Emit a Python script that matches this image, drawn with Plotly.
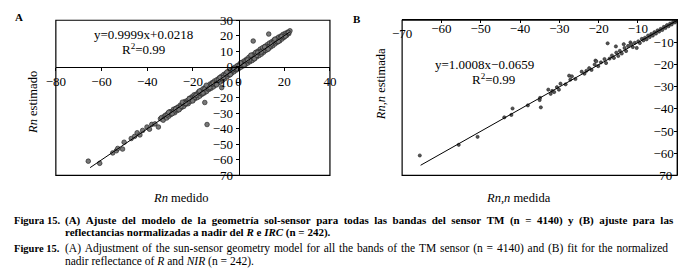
import plotly.graph_objects as go

W, H = 692, 279

# ---------------- Panel A data (Rn medido vs Rn estimado) ----------------
a_x = [-65.8, -60.8, -55.1, -53.5, -52.9, -50.8, -50.1, -47.0, -45.5, -44.4, -43.2, -42.0,
       -40.1, -39.0, -38.0, -36.6, -35.1, -34.2, -33.7, -33.0, -32.5,
       -32.0, -31.5, -31.0, -30.5, -30.0, -29.5, -29.0, -28.5, -28.0, -27.5, -27.0, -26.5,
       -26.0, -25.5, -25.0, -24.5, -24.0, -23.5, -23.0, -22.5, -22.0, -21.5, -21.0, -20.5,
       -20.0, -19.5, -19.0, -18.5, -18.0, -17.5, -17.0, -16.5, -16.0, -15.5, -15.0, -14.5,
       -14.0, -13.5, -13.0, -12.5, -12.0, -11.5, -11.0, -10.5, -10.0, -9.5, -9.0, -8.5,
       -8.0, -7.5, -7.0, -6.5, -6.0, -5.5, -5.0, -4.5, -4.0, -3.5, -3.0, -2.5, -2.0, -1.5,
       -1.0, -0.5, 0.0, 0.5, 1.0, 1.5, 2.0, 2.5, 3.0, 3.5, 4.0, 4.5, 5.0, 5.5, 6.0, 6.5,
       7.0, 7.5, 8.0, 8.5, 9.0, 9.5, 10.0, 10.5, 11.0, 11.5, 12.0, 12.5, 13.0, 13.5, 14.0,
       14.5, 15.0, 15.5, 16.0, 16.5, 17.0, 17.5, 18.0, 18.5, 19.0, 19.5, 20.0, 20.5, 21.0,
       21.5, 22.0, 22.5,
       -31.25, -29.75, -28.25, -26.75, -25.25, -23.75, -22.25, -20.75, -19.25, -17.75,
       -16.25, -14.75, -13.25, -11.75, -10.25, -8.75, -7.25, -5.75, -4.25, -2.75, -1.25,
       0.25, 1.75, 3.25, 4.75, 6.25, 7.75, 9.25, 10.75, 12.25, 13.75, 15.25, 16.75, 18.25,
       19.75, 21.25,
       -30.6, -29.1, -27.6, -26.1, -24.6, -23.1, -21.6, -20.1, -18.6, -17.1, -15.6, -14.1,
       -12.6, -11.1, -9.6, -8.1, -6.6, -5.1, -3.6, -2.1, -0.6, 0.9, 2.4, 3.9, 5.4, 6.9,
       8.4, 9.9, 11.4, 12.9, 14.4, 15.9, 17.4, 18.9, 20.4, 21.9,
       -14.8, -13.8, 6.4, 13.2, -7.4]
a_y = [-60.8, -62.2, -55.5, -54.1, -52.6, -53.0, -48.6, -46.2, -44.8, -42.5, -43.9, -41.0,
       -38.8, -40.2, -37.1, -36.8, -38.8, -33.5, -32.7, -34.4, -31.9,
       -31.2, -33.0, -30.1, -31.8, -28.9, -30.6, -29.9, -27.4, -29.6, -26.8, -28.3, -25.9,
       -27.4, -24.7, -26.2, -23.6, -25.5, -22.4, -24.1, -21.8, -23.7, -20.3, -22.2, -19.4,
       -21.6, -18.1, -20.4, -17.6, -19.8, -16.2, -18.9, -15.3, -17.7, -14.1, -16.8, -13.2,
       -15.9, -12.4, -14.6, -11.1, -13.8, -10.2, -12.9, -9.1, -11.7, -8.3, -10.6, -7.2,
       -9.8, -6.1, -8.7, -5.0, -7.6, -4.2, -6.4, -3.1, -5.3, -2.2, -4.1, -1.3, -3.2, -0.2,
       -2.1, 0.8, -1.2, 1.7, -0.3, 2.9, 0.6, 3.8, 1.5, 4.9, 2.4, 6.1, 3.3, 7.2, 4.1, 8.0,
       5.2, 9.3, 6.4, 10.1, 7.3, 11.4, 8.2, 12.3, 9.4, 13.1, 10.6, 14.2, 11.5, 15.3, 12.7,
       16.1, 13.6, 17.2, 14.8, 18.0, 15.9, 19.1, 16.7, 19.8, 17.9, 20.9, 19.1, 21.6, 20.2,
       22.3, 21.4, 23.2,
       -31.0, -29.4, -28.6, -26.4, -25.6, -23.2, -22.7, -20.3, -19.6, -17.3,
       -16.8, -14.2, -13.7, -11.3, -10.8, -8.2, -7.7, -5.3, -4.7, -2.3, -1.6,
       0.8, 1.2, 3.7, 4.3, 6.8, 7.2, 9.7, 10.3, 12.8, 13.2, 15.7, 16.2, 18.6,
       19.3, 21.6,
       -29.3, -30.2, -27.2, -27.7, -22.8, -23.6, -20.6, -22.0, -18.4, -15.6, -16.9, -11.9,
       -13.4, -10.5, -11.6, -6.9, -6.9, -3.4, -5.0, -1.2, -1.3, 2.5, 1.2, 4.4, 7.5, 5.2,
       9.2, 9.5, 12.8, 11.4, 14.7, 17.8, 16.4, 19.6, 19.8, 22.1,
       -23.0, -37.2, 16.6, 21.1, -13.4]
a_slope, a_icpt = 0.9999, 0.0218
a_line_x = [-65.0, 22.5]

# ---------------- Panel B data (Rn,n medida vs Rn,n estimada) ----------------
b_x = [-65.5, -55.6, -50.8, -44.0, -42.2, -41.9, -38.0, -35.0, -34.7, -34.9, -32.8, -32.2,
       -31.8, -31.3, -30.6, -30.1, -29.7, -28.4, -27.5, -27.2, -26.8, -25.9, -24.3, -23.6,
       -23.1, -22.4, -21.8, -21.0, -20.8, -20.6, -20.1, -19.4, -18.5, -18.1, -17.7, -17.2,
       -16.6, -16.1, -15.6, -15.5, -15.0, -14.6, -14.1, -13.6, -13.4, -13.0, -12.5, -11.9,
       -11.7, -11.3, -10.8, -10.3, -9.9, -9.5, -9.0, -8.6, -8.2, -7.8, -7.4, -7.0, -6.6,
       -6.2, -5.8, -5.4, -5.0, -4.6, -4.2, -3.8, -3.4, -3.0, -2.6, -2.2, -1.8, -1.4, -1.0,
       -0.6, -0.3]
b_y = [-61.0, -56.2, -52.6, -43.8, -42.7, -39.8, -38.4, -36.0, -39.3, -35.0, -31.3, -33.2,
       -31.9, -32.4, -30.2, -31.3, -28.6, -28.9, -25.0, -26.8, -25.3, -26.5, -23.2, -24.1,
       -22.8, -21.6, -22.4, -20.0, -18.2, -18.5, -20.7, -19.0, -17.5, -19.3, -10.4, -17.3,
       -15.9, -17.0, -11.8, -14.6, -16.1, -13.8, -15.0, -10.8, -12.5, -13.9, -11.6, -10.0,
       -10.8, -12.1, -10.2, -12.5, -9.5, -10.3, -8.4, -9.1, -7.9, -8.6, -6.9, -7.6, -6.2,
       -6.9, -5.4, -6.0, -4.6, -5.1, -3.9, -4.4, -3.0, -3.5, -2.2, -2.7, -1.5, -1.9, -0.7,
       -1.0, -0.2]
b_slope, b_icpt = 1.0008, -0.0659
b_line_x = [-65.3, 0.0]

# axis ticks
a_xticks = [-80, -60, -40, -20, 0, 20, 40]
a_yticks = [30, 20, 10, 0, -10, -20, -30, -40, -50, -60, -70]
b_xticks = [-70, -60, -50, -40, -30, -20, -10]
b_yticks = [-10, -20, -30, -40, -50, -60, -70]

SERIF = "Liberation Serif"

def px2fx(p):
    return p / W

def px2fy(p):
    return 1 - p / H

# panel boxes (pixels)
A_L, A_R, A_T, A_B = 47, 328, 14, 178
B_L, B_R, B_T, B_B = 402, 684, 14, 178
A_XR, A_YR = [-80, 40], [-70, 30]
B_XR, B_YR = [-70, 0], [-70, 0]

a_dom_x = [px2fx(A_L), px2fx(A_R)]
a_dom_y = [px2fy(A_B), px2fy(A_T)]
b_dom_x = [px2fx(B_L), px2fx(B_R)]
b_dom_y = [px2fy(B_B), px2fy(B_T)]

a_x0 = a_dom_x[0] + (0 - A_XR[0]) / (A_XR[1] - A_XR[0]) * (a_dom_x[1] - a_dom_x[0])
a_y0 = a_dom_y[0] + (0 - A_YR[0]) / (A_YR[1] - A_YR[0]) * (a_dom_y[1] - a_dom_y[0])

marker_a = dict(size=4.6, color="#777777", line=dict(width=0.7, color="#2a2a2a"))
marker_b = dict(size=3.2, color="#555555", line=dict(width=0.6, color="#222222"))

fig = go.Figure()
fig.add_trace(go.Scatter(x=a_x, y=a_y, mode="markers", marker=marker_a,
                         xaxis="x", yaxis="y", showlegend=False))
fig.add_trace(go.Scatter(x=a_line_x, y=[a_slope * v + a_icpt for v in a_line_x], mode="lines",
                         line=dict(color="black", width=1), xaxis="x", yaxis="y", showlegend=False))
fig.add_trace(go.Scatter(x=b_x, y=b_y, mode="markers", marker=marker_b,
                         xaxis="x2", yaxis="y2", showlegend=False))
fig.add_trace(go.Scatter(x=b_line_x, y=[b_slope * v + b_icpt for v in b_line_x], mode="lines",
                         line=dict(color="black", width=1), xaxis="x2", yaxis="y2", showlegend=False))

tickfont = dict(family=SERIF, size=13, color="black")
common = dict(showgrid=False, zeroline=False, showline=True, linecolor="black", linewidth=1,
              tickfont=tickfont, tickcolor="black", ticklen=3, tickwidth=1)

fig.update_layout(
    width=W, height=H, margin=dict(l=0, r=0, t=0, b=0),
    paper_bgcolor="white", plot_bgcolor="white",
    xaxis=dict(domain=a_dom_x, range=A_XR, anchor="free", position=a_y0,
               tickvals=a_xticks, ticks="outside", **common),
    yaxis=dict(domain=a_dom_y, range=A_YR, anchor="free", position=a_x0,
               tickvals=a_yticks, ticks="outside", **common),
    xaxis2=dict(domain=b_dom_x, range=B_XR, anchor="y2", side="top",
                ticklabelposition="inside", tickvals=b_xticks, ticks="inside", **common),
    yaxis2=dict(domain=b_dom_y, range=B_YR, anchor="x2", side="right",
                ticklabelposition="inside", tickvals=b_yticks, ticks="inside", **common),
)

for xr, yr in (("x domain", "y domain"), ("x2 domain", "y2 domain")):
    fig.add_shape(type="rect", xref=xr, yref=yr, x0=0, x1=1, y0=0, y1=1,
                  line=dict(color="black", width=1.2), fillcolor="rgba(0,0,0,0)")

def ann(text, x, y, size=13, bold=False, angle=0, xanchor="center", family=SERIF):
    fig.add_annotation(text=("<b>%s</b>" % text) if bold else text,
                       x=px2fx(x), y=px2fy(y), xref="paper", yref="paper",
                       showarrow=False, textangle=angle, xanchor=xanchor, yanchor="middle",
                       font=dict(family=family, size=size, color="black"))

# edge tick labels of panel B that Plotly would clip (placed on the axis scale)
fig.add_annotation(text="\u221270", x=b_xticks[0], y=0, xref="x2", yref="y2", showarrow=False,
                   xanchor="center", yanchor="top", yshift=-4, font=tickfont)
fig.add_annotation(text="\u221270", x=0, y=b_yticks[-1], xref="x2", yref="y2", showarrow=False,
                   xanchor="right", yanchor="middle", xshift=-3, font=tickfont)

ann("A", 9, 11, size=11, bold=True)
ann("B", 356, 13, size=11, bold=True)
ann("y=0.9999x+0.0218", 137, 29)
ann("R<sup>2</sup>=0.99", 137, 44)
ann("y=1.0008x\u22120.0659", 486, 61)
ann("R<sup>2</sup>=0.99", 496, 76)
ann("<i>Rn</i> estimado", 23, 101, size=12.5, angle=-90)
ann("<i>Rn,n</i> estimada", 380, 82, size=12.5, angle=-90)
ann("<i>Rn</i> medido", 175, 202, size=12.5)
ann("<i>Rn,n</i> medida", 521, 202, size=12.5)

SP_ES = "\u2002"
SP_EN = " \u200a"
es1 = "(A) Ajuste del modelo de la geometría sol-sensor para todas las bandas del sensor TM (n = 4140) y (B) ajuste para las"
en1 = "(A) Adjustment of the sun-sensor geometry model for all the bands of the TM sensor (n = 4140) and (B) fit for the normalized"

ann("Figura 15.", 2, 226, size=10.5, bold=True, xanchor="left")
ann(es1.replace(" ", SP_ES), 54, 226, size=11, bold=True, xanchor="left")
ann("reflectancias normalizadas a nadir del <i>R</i> e <i>IRC</i> (n = 242).", 54, 238.5,
    size=11, bold=True, xanchor="left")
ann("Figure 15.", 2, 255, size=10.5, bold=True, xanchor="left")
ann(en1.replace(" ", SP_EN), 54, 255, size=11.5, xanchor="left")
ann("nadir reflectance of <i>R</i> and <i>NIR</i> (n = 242).", 54, 268.5, size=11.5, xanchor="left")

fig.write_html("out.html", config={"displayModeBar": False},
               post_script="document.body.style.margin='0';document.body.style.overflow='hidden';")
